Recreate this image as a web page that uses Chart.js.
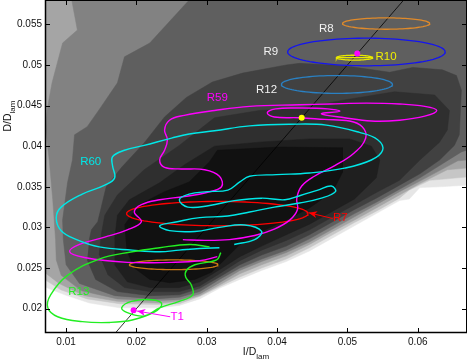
<!DOCTYPE html>
<html>
<head>
<meta charset="utf-8">
<script src="https://cdn.jsdelivr.net/npm/chart.js@4.4.1/dist/chart.umd.min.js"></script>
<style>
  html, body { margin: 0; padding: 0; background: #fff; }
</style>
</head>
<body>
<canvas id="chart" width="468" height="360"></canvas>
<script>
// axes
const xTicks = [0.01, 0.02, 0.03, 0.04, 0.05, 0.06];
const xTickLabels = ['0.01', '0.02', '0.03', '0.04', '0.05', '0.06'];
const yTicks = [0.02, 0.025, 0.03, 0.035, 0.04, 0.045, 0.05, 0.055];
const yTickLabels = ['0.02', '0.025', '0.03', '0.035', '0.04', '0.045', '0.05', '0.055'];

// filled contour levels, outermost first
const levelColors = ['#e6e6e6', '#c6c6c6', '#a5a5a5', '#828282', '#5f5f5f', '#414141', '#2f2f2f', '#1f1f1f', '#111111'];
const contour1 = [[-0.0052,0.0629],[0.0745,0.0629],[0.0745,0.0352],[0.0669,0.0352],[0.0631,0.035],[0.0603,0.0349],[0.0588,0.0335],[0.0574,0.0333],[0.0541,0.0317],[0.051,0.0302],[0.0479,0.0287],[0.0446,0.0271],[0.0413,0.0258],[0.0378,0.0247],[0.0347,0.0236],[0.0318,0.0225],[0.029,0.0212],[0.0261,0.0204],[0.0233,0.0201],[0.0176,0.0201],[0.0133,0.0207],[0.0098,0.0217],[0.0069,0.0227],[-0.0052,0.0241]];
const contour2 = [[-0.0052,0.0629],[0.0745,0.0629],[0.0745,0.0362],[0.0669,0.0362],[0.0617,0.0358],[0.0588,0.0346],[0.0574,0.0336],[0.0541,0.032],[0.051,0.0306],[0.0479,0.0291],[0.0446,0.0275],[0.0413,0.0261],[0.0378,0.025],[0.0347,0.0239],[0.0318,0.0227],[0.029,0.0215],[0.0261,0.0206],[0.0233,0.0205],[0.0176,0.0206],[0.013,0.0212],[0.0093,0.0223],[0.0069,0.0236],[-0.0052,0.0253]];
const contour3 = [[-0.0052,0.0629],[0.0745,0.0629],[0.0745,0.0373],[0.0669,0.0373],[0.0642,0.0371],[0.0603,0.0354],[0.0574,0.034],[0.0541,0.0324],[0.051,0.0309],[0.0479,0.0295],[0.0446,0.0279],[0.0413,0.0265],[0.0378,0.0254],[0.0347,0.0243],[0.0318,0.0229],[0.029,0.0216],[0.0261,0.0209],[0.0233,0.0207],[0.0173,0.0209],[0.0126,0.0216],[0.009,0.0231],[0.0069,0.0245],[-0.0052,0.0262]];
const contour4 = [[0.0112,0.0629],[0.0745,0.0629],[0.0745,0.0383],[0.0669,0.0383],[0.0657,0.0382],[0.0603,0.0357],[0.0574,0.0344],[0.0541,0.0328],[0.051,0.0313],[0.0479,0.0298],[0.0446,0.0282],[0.0413,0.0269],[0.0378,0.0258],[0.0347,0.0247],[0.0318,0.0232],[0.029,0.0218],[0.0261,0.0211],[0.023,0.021],[0.0173,0.0212],[0.0122,0.0222],[0.0093,0.0241],[0.0086,0.026],[0.0085,0.0285],[0.0081,0.0334],[0.0076,0.0383],[0.0071,0.042],[0.0073,0.0445],[0.008,0.0478],[0.0095,0.0527],[0.0116,0.0543],[0.0108,0.058]];
const contour5 = [[0.029,0.0629],[0.0745,0.0629],[0.0745,0.0395],[0.0669,0.0395],[0.0662,0.0393],[0.0603,0.0361],[0.0574,0.0347],[0.0541,0.0331],[0.051,0.0317],[0.0479,0.0302],[0.0446,0.0286],[0.0413,0.0272],[0.0378,0.0261],[0.0347,0.025],[0.0318,0.0236],[0.029,0.0221],[0.0261,0.0214],[0.0226,0.0212],[0.0169,0.0216],[0.0119,0.0231],[0.01,0.0254],[0.0096,0.0285],[0.0095,0.0309],[0.0102,0.0355],[0.0109,0.0383],[0.0112,0.0414],[0.013,0.0424],[0.0147,0.0445],[0.0173,0.0478],[0.0183,0.051],[0.0219,0.0527],[0.0275,0.058]];
const contour6 = [[0.0133,0.0285],[0.0136,0.0297],[0.0145,0.0307],[0.0157,0.035],[0.0179,0.0374],[0.0211,0.0404],[0.024,0.0436],[0.0271,0.046],[0.0308,0.0479],[0.0351,0.049],[0.0413,0.05],[0.0432,0.0502],[0.0496,0.0499],[0.056,0.0491],[0.0593,0.0497],[0.0635,0.0494],[0.0655,0.0487],[0.0662,0.0469],[0.0659,0.0414],[0.0652,0.0401],[0.0631,0.0383],[0.0603,0.0366],[0.0574,0.0352],[0.0541,0.0336],[0.051,0.0322],[0.0479,0.0307],[0.0446,0.0291],[0.0413,0.0277],[0.0378,0.0266],[0.0347,0.0254],[0.0318,0.0239],[0.029,0.0225],[0.0261,0.0217],[0.0219,0.0216],[0.0173,0.0221],[0.0142,0.0236],[0.013,0.026]];
const contour7 = [[0.0147,0.0266],[0.015,0.0291],[0.0155,0.0315],[0.0173,0.034],[0.0211,0.0371],[0.0261,0.0401],[0.0311,0.0435],[0.0375,0.0444],[0.0432,0.0447],[0.0496,0.0457],[0.0567,0.0467],[0.0624,0.0463],[0.0645,0.0444],[0.0642,0.042],[0.0631,0.0405],[0.0603,0.0383],[0.0574,0.0358],[0.0541,0.0343],[0.051,0.0328],[0.0479,0.0313],[0.0446,0.0297],[0.0413,0.0284],[0.0378,0.0272],[0.0347,0.0259],[0.0318,0.0243],[0.029,0.0228],[0.0261,0.0221],[0.0219,0.0221],[0.0183,0.0226],[0.0159,0.0242]];
const contour8 = [[0.0169,0.0285],[0.0173,0.0315],[0.019,0.0334],[0.0233,0.0355],[0.0268,0.0377],[0.0311,0.04],[0.0375,0.0405],[0.0446,0.0409],[0.0503,0.0409],[0.0534,0.04],[0.0546,0.0383],[0.0541,0.0361],[0.051,0.0335],[0.0479,0.032],[0.0446,0.0304],[0.0413,0.0291],[0.0378,0.0277],[0.0347,0.0264],[0.0318,0.0248],[0.029,0.0233],[0.0261,0.0226],[0.0219,0.0226],[0.0187,0.0233],[0.0169,0.0254]];
const contour9 = [[0.0183,0.0303],[0.0204,0.0328],[0.024,0.0344],[0.0275,0.0356],[0.0304,0.0381],[0.0315,0.0395],[0.0403,0.0399],[0.0493,0.0398],[0.0493,0.0368],[0.0479,0.0344],[0.0446,0.0324],[0.0413,0.0309],[0.0378,0.0295],[0.0347,0.0279],[0.0325,0.026],[0.0307,0.0245],[0.0283,0.0236],[0.0247,0.0232],[0.0219,0.0236],[0.0197,0.025],[0.0186,0.0272]];
const contours = [contour1, contour2, contour3, contour4, contour5, contour6, contour7, contour8, contour9];

// I/D = D/D line
const diagLine = [[0.005, 0.005], [0.07, 0.07]];

// ellipses: [cx, cy, rx, ry]
const ellR8 = [0.0555, 0.0551, 0.0062, 0.0007];
const ellR9 = [0.0527, 0.0516, 0.0112, 0.0017];
const ellR10 = [0.0510, 0.0509, 0.0026, 0.0003];
const ellR12 = [0.0485, 0.0476, 0.0079, 0.0011];
const ellR7 = [0.0315, 0.0317, 0.0129, 0.0015];
const ellMid = [0.0253, 0.0254, 0.0063, 0.0006];
// major axis drawn through the R10 ellipse
const axisR10 = [[0.0484, 0.0509], [0.0536, 0.0509]];

// trajectories
const trackR60 = [[0.0318,0.0275],[0.029,0.0274],[0.0261,0.0272],[0.0233,0.027],[0.0194,0.0272],[0.0147,0.0276],[0.0115,0.0285],[0.0093,0.0296],[0.0086,0.0312],[0.0093,0.0325],[0.0123,0.0341],[0.0155,0.0352],[0.0169,0.0361],[0.0166,0.0376],[0.0166,0.0387],[0.0183,0.0395],[0.0211,0.0401],[0.025,0.041],[0.0275,0.0415],[0.0311,0.0419],[0.0361,0.0425],[0.0418,0.0427],[0.047,0.0426],[0.0517,0.0417],[0.0543,0.0408],[0.055,0.0395],[0.0534,0.0383],[0.0496,0.0373],[0.0446,0.0367],[0.0399,0.0365],[0.0361,0.0363],[0.0347,0.0356],[0.033,0.0346],[0.0301,0.0344],[0.0275,0.0341],[0.0261,0.0334],[0.0273,0.0325],[0.0304,0.0327],[0.0339,0.0333],[0.0378,0.0336],[0.0411,0.0334],[0.0432,0.0339],[0.0458,0.0346],[0.0477,0.0351],[0.0483,0.0344],[0.0463,0.0336],[0.0432,0.033],[0.0396,0.0325],[0.0361,0.0319],[0.033,0.0314],[0.029,0.0312],[0.0258,0.0307],[0.0233,0.0302],[0.0247,0.0296],[0.0283,0.0295],[0.0318,0.03],[0.0354,0.0303],[0.0378,0.0295],[0.0368,0.0285],[0.0339,0.0279]];
const trackR59 = [[0.0266,0.0285],[0.0297,0.0284],[0.0332,0.0285],[0.0368,0.029],[0.0396,0.0298],[0.0418,0.0309],[0.0429,0.0322],[0.0428,0.0336],[0.0435,0.0351],[0.0453,0.0363],[0.0482,0.0376],[0.051,0.0392],[0.0526,0.041],[0.0521,0.0424],[0.0503,0.0431],[0.0467,0.0433],[0.0432,0.0435],[0.0396,0.0436],[0.0386,0.0441],[0.0398,0.0446],[0.0432,0.0447],[0.0472,0.0446],[0.0489,0.0443],[0.0463,0.044],[0.0496,0.0435],[0.0534,0.0431],[0.0574,0.0432],[0.061,0.0437],[0.0627,0.0444],[0.061,0.0449],[0.0574,0.0452],[0.0527,0.0453],[0.0475,0.0452],[0.0432,0.0451],[0.0361,0.0449],[0.0311,0.0444],[0.0268,0.0438],[0.0247,0.0432],[0.024,0.042],[0.0244,0.0408],[0.024,0.0395],[0.0233,0.0383],[0.024,0.0374],[0.0264,0.0372],[0.0297,0.0371],[0.0318,0.0363],[0.0321,0.035],[0.03,0.0343],[0.0268,0.0338],[0.0233,0.0334],[0.0207,0.0328],[0.0197,0.0319],[0.0207,0.0307],[0.0187,0.0297],[0.0155,0.0288],[0.0119,0.0279],[0.0105,0.027],[0.0126,0.0263],[0.0187,0.0257],[0.025,0.0257],[0.029,0.0259],[0.0315,0.0264]];
const trackR13 = [[0.032,0.0269],[0.0314,0.026],[0.0283,0.0254],[0.0271,0.0247],[0.027,0.0239],[0.0278,0.0229],[0.028,0.0217],[0.0261,0.0209],[0.0233,0.0201],[0.0211,0.0191],[0.0187,0.0195],[0.0179,0.0201],[0.0193,0.0209],[0.0221,0.0211],[0.0236,0.0206],[0.0226,0.0196],[0.0194,0.0186],[0.0162,0.0183],[0.0123,0.0184],[0.0088,0.019],[0.0074,0.0201],[0.0078,0.0217],[0.0102,0.0241],[0.0147,0.0261],[0.0194,0.027],[0.0233,0.0275],[0.0275,0.0279],[0.0304,0.0276]];

// single points
const pointT1 = [0.0196, 0.0198];
const pointYellow = [0.0435, 0.0435];
const pointR10 = [0.0514, 0.0514];

// annotations: [text, x, y, colour]
const labels = [
  ['R8', 0.0470, 0.0545, '#f2f2f2'],
  ['R9', 0.0391, 0.0516, '#f2f2f2'],
  ['R10', 0.0555, 0.0510, '#f0f000'],
  ['R12', 0.0385, 0.0469, '#f2f2f2'],
  ['R59', 0.0315, 0.0459, '#ff00ff'],
  ['R60', 0.0135, 0.0381, '#00e8e8'],
  ['R7', 0.0490, 0.0312, '#ff0000'],
  ['R13', 0.0118, 0.0221, '#22ee22'],
  ['T1', 0.0258, 0.0190, '#ff00ff']
];
const arrowR7 = [[0.0479, 0.0311], [0.0445, 0.0318]];
const arrowT1 = [[0.0248, 0.0190], [0.0201, 0.0197]];

const toXY = arr => arr.map(([x, y]) => ({ x, y }));
function ellipsePoints([cx, cy, rx, ry]) {
  const pts = [];
  for (let k = 0; k <= 90; k++) {
    const t = k / 90 * 2 * Math.PI;
    pts.push({ x: cx + rx * Math.cos(t), y: cy + ry * Math.sin(t) });
  }
  return pts;
}

const datasets = [];
contours.forEach((c, i) => {
  datasets.push({
    data: toXY(c), showLine: true, fill: 'shape', tension: 0,
    backgroundColor: levelColors[i], borderColor: levelColors[i], borderWidth: 0.5,
    pointRadius: 0, order: 100 - i
  });
});
datasets.push({ data: toXY(diagLine), showLine: true, borderColor: '#000', borderWidth: 0.8, pointRadius: 0, order: 5 });

const ell = (p, color) => ({ data: ellipsePoints(p), showLine: true, borderColor: color, borderWidth: 1.3, pointRadius: 0, order: 3 });
datasets.push(ell(ellR8, '#e08a2a'));
datasets.push(ell(ellR9, '#1414f0'));
datasets.push(ell(ellR10, '#e8e800'));
datasets.push({ data: toXY(axisR10), showLine: true, borderColor: '#e8e800', borderWidth: 1.2, pointRadius: 0, order: 3 });
datasets.push(ell(ellR12, '#2a80c2'));
datasets.push(ell(ellR7, '#ff0000'));
datasets.push(ell(ellMid, '#c87814'));

const track = (p, color) => ({ data: toXY(p), showLine: true, borderColor: color, borderWidth: 1.4, pointRadius: 0, tension: 0.4, order: 2 });
datasets.push(track(trackR13, '#22ee22'));
datasets.push(track(trackR60, '#00e8e8'));
datasets.push(track(trackR59, '#ff00ff'));

const dot = (p, color) => ({ data: toXY([p]), pointRadius: 3, pointBackgroundColor: color, pointBorderWidth: 0, order: 1 });
datasets.push(dot(pointT1, '#ff00ff'));
datasets.push(dot(pointYellow, '#ffff00'));
datasets.push(dot(pointR10, '#ff00ff'));

const font = '"Liberation Sans", Arial, Helvetica, sans-serif';

function arrow(ctx, x, y, pts, color) {
  const x0 = x.getPixelForValue(pts[0][0]), y0 = y.getPixelForValue(pts[0][1]);
  const x1 = x.getPixelForValue(pts[1][0]), y1 = y.getPixelForValue(pts[1][1]);
  const ang = Math.atan2(y1 - y0, x1 - x0);
  ctx.strokeStyle = color; ctx.fillStyle = color; ctx.lineWidth = 1;
  ctx.beginPath(); ctx.moveTo(x0, y0); ctx.lineTo(x1, y1); ctx.stroke();
  ctx.beginPath();
  ctx.moveTo(x1, y1);
  ctx.lineTo(x1 - 9 * Math.cos(ang - 0.4), y1 - 9 * Math.sin(ang - 0.4));
  ctx.lineTo(x1 - 6 * Math.cos(ang), y1 - 6 * Math.sin(ang));
  ctx.lineTo(x1 - 9 * Math.cos(ang + 0.4), y1 - 9 * Math.sin(ang + 0.4));
  ctx.closePath(); ctx.fill();
}

const decorations = {
  id: 'decorations',
  afterDatasetsDraw(chart) {
    const { ctx, chartArea: a, scales: { x, y } } = chart;
    ctx.save();
    // annotation arrows and labels
    arrow(ctx, x, y, arrowR7, '#ff0000');
    arrow(ctx, x, y, arrowT1, '#ff00ff');
    ctx.font = '11.5px ' + font;
    ctx.textAlign = 'center';
    ctx.textBaseline = 'middle';
    labels.forEach(([t, lx, ly, c]) => {
      ctx.fillStyle = c;
      ctx.fillText(t, x.getPixelForValue(lx), y.getPixelForValue(ly));
    });
    // box and inward ticks
    ctx.strokeStyle = '#000';
    ctx.lineWidth = 1;
    ctx.strokeRect(a.left + 0.5, a.top + 0.5, a.right - a.left - 1, a.bottom - a.top - 1);
    ctx.beginPath();
    xTicks.forEach(v => {
      const px = Math.round(x.getPixelForValue(v)) + 0.5;
      ctx.moveTo(px, a.bottom); ctx.lineTo(px, a.bottom - 5);
      ctx.moveTo(px, a.top); ctx.lineTo(px, a.top + 5);
    });
    yTicks.forEach(v => {
      const py = Math.round(y.getPixelForValue(v)) + 0.5;
      ctx.moveTo(a.left, py); ctx.lineTo(a.left + 5, py);
      ctx.moveTo(a.right, py); ctx.lineTo(a.right - 5, py);
    });
    ctx.stroke();
    ctx.lineWidth = 1.5;
    ctx.beginPath();
    ctx.moveTo(a.left + 0.5, a.top); ctx.lineTo(a.left + 0.5, a.bottom - 0.5); ctx.lineTo(a.right, a.bottom - 0.5);
    ctx.stroke();
    ctx.restore();
  },
  afterDraw(chart) {
    const { ctx } = chart;
    ctx.save();
    ctx.fillStyle = '#111';
    ctx.textBaseline = 'alphabetic';
    ctx.textAlign = 'left';
    // x title: I/D_lam
    ctx.font = '10.5px ' + font;
    const w1 = ctx.measureText('I/D').width;
    ctx.font = '8px ' + font;
    const w2 = ctx.measureText('lam').width;
    let sx = 256 - (w1 + w2) / 2;
    ctx.font = '10.5px ' + font;
    ctx.fillText('I/D', sx, 355);
    ctx.font = '8px ' + font;
    ctx.fillText('lam', sx + w1, 359);
    // y title: D/D_lam
    ctx.translate(11, 116);
    ctx.rotate(-Math.PI / 2);
    ctx.font = '10.5px ' + font;
    const v1 = ctx.measureText('D/D').width;
    ctx.font = '8px ' + font;
    const v2 = ctx.measureText('lam').width;
    sx = -(v1 + v2) / 2;
    ctx.font = '10.5px ' + font;
    ctx.fillText('D/D', sx, 0);
    ctx.font = '8px ' + font;
    ctx.fillText('lam', sx + v1, 4);
    ctx.restore();
  }
};

new Chart(document.getElementById('chart').getContext('2d'), {
  type: 'scatter',
  data: { datasets },
  options: {
    responsive: false,
    animation: false,
    devicePixelRatio: 1,
    layout: { autoPadding: false, padding: { top: 0, right: 1, left: 0, bottom: 0 } },
    plugins: { legend: { display: false }, tooltip: { enabled: false } },
    scales: {
      x: {
        type: 'linear', min: 0.007, max: 0.067,
        grid: { display: false, drawTicks: false }, border: { display: false },
        afterBuildTicks: s => { s.ticks = xTicks.map(v => ({ value: v })); },
        afterFit: s => { s.height = 27; s.paddingLeft = 0; s.paddingRight = 0; },
        ticks: { padding: 3, color: '#111', maxRotation: 0, autoSkip: false,
          font: { family: font, size: 10 }, callback: (v, i) => xTickLabels[i] }
      },
      y: {
        type: 'linear', min: 0.017, max: 0.058,
        grid: { display: false, drawTicks: false }, border: { display: false },
        afterBuildTicks: s => { s.ticks = yTicks.map(v => ({ value: v })); },
        afterFit: s => { s.width = 45; s.paddingTop = 0; s.paddingBottom = 0; },
        ticks: { padding: 3, color: '#111', autoSkip: false,
          font: { family: font, size: 10 }, callback: (v, i) => yTickLabels[i] }
      }
    }
  },
  plugins: [decorations]
});
</script>
</body>
</html>
